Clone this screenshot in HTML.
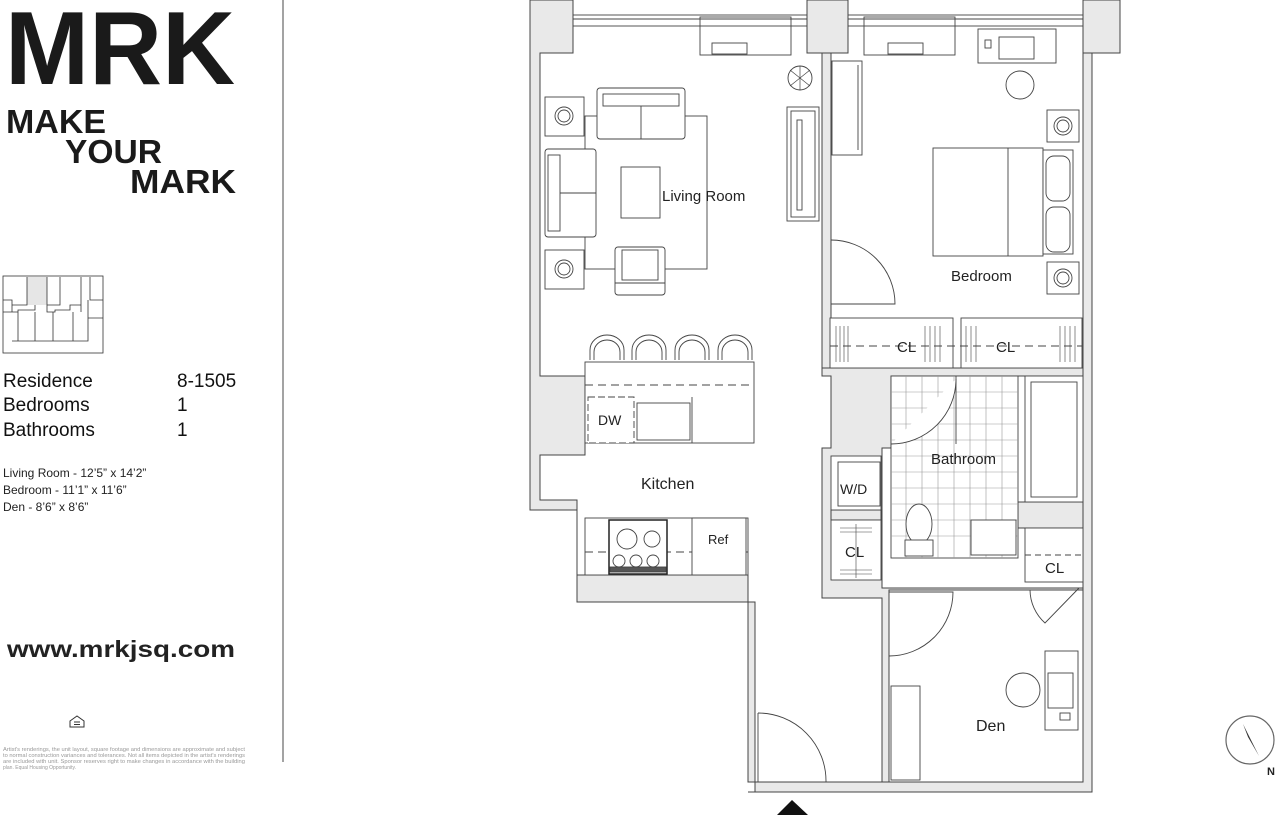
<!DOCTYPE html>
<html><head><meta charset="utf-8"><style>
html,body{margin:0;padding:0;background:#fff;width:1280px;height:819px;overflow:hidden}
svg{display:block}
text{font-family:"Liberation Sans",sans-serif}
</style></head><body>
<svg width="1280" height="819" viewBox="0 0 1280 819" xmlns="http://www.w3.org/2000/svg">
<!-- LEFT PANEL -->
<text x="5" y="84" font-size="104" font-weight="bold" textLength="230" lengthAdjust="spacingAndGlyphs" fill="#1a1a1a">MRK</text>
<text x="6" y="133" font-size="33" font-weight="bold" textLength="100" lengthAdjust="spacingAndGlyphs" fill="#1a1a1a">MAKE</text>
<text x="65" y="163" font-size="33" font-weight="bold" textLength="97" lengthAdjust="spacingAndGlyphs" fill="#1a1a1a">YOUR</text>
<text x="130" y="193" font-size="33" font-weight="bold" textLength="106" lengthAdjust="spacingAndGlyphs" fill="#1a1a1a">MARK</text>
<line x1="283" y1="0" x2="283" y2="762" stroke="#666" stroke-width="1.2"/>
<!-- minimap -->
<g fill="none" stroke="#333" stroke-width="0.8">
<rect x="3" y="276" width="100" height="77"/>
<rect x="27" y="277" width="20" height="28" fill="#e6e6e6" stroke="none"/>
<path d="M3 300 H12 V305 H27 V277 M47 277 V305 H60 V300 M60 277 V300 M81 277 V300 M90 277 V300 H103 M3 300 M12 305 V312 H18 V310 H35 V305 M47 305 V312 H55 V310 H70 V305 H81 V300 M81 305 V312 M88 300 V318 H103 M18 312 V341 M35 312 V341 M53 312 V341 M73 312 V341 M12 341 H88 V318 M3 312 H18"/>
</g>
<g font-size="19" fill="#111">
<text x="3" y="387">Residence</text><text x="177" y="387">8-1505</text>
<text x="3" y="411">Bedrooms</text><text x="177" y="411">1</text>
<text x="3" y="436">Bathrooms</text><text x="177" y="436">1</text>
</g>
<g font-size="12" fill="#222">
<text x="3" y="477">Living Room - 12’5” x 14’2”</text>
<text x="3" y="494">Bedroom - 11’1” x 11’6”</text>
<text x="3" y="511">Den - 8’6” x 8’6”</text>
</g>
<text x="7" y="657" font-size="23" font-weight="bold" fill="#222" textLength="228" lengthAdjust="spacingAndGlyphs">www.mrkjsq.com</text>
<g stroke="#333" fill="none" stroke-width="1"><path d="M70 721 L77 716 L84 721 V727 H70 Z"/><line x1="74" y1="722" x2="80" y2="722"/><line x1="74" y1="724.5" x2="80" y2="724.5"/></g>
<g font-size="5" fill="#999">
<text x="3" y="751" textLength="242" lengthAdjust="spacingAndGlyphs">Artist's renderings, the unit layout, square footage and dimensions are approximate and subject</text>
<text x="3" y="757" textLength="242" lengthAdjust="spacingAndGlyphs">to normal construction variances and tolerances. Not all items depicted in the artist's renderings</text>
<text x="3" y="763" textLength="242" lengthAdjust="spacingAndGlyphs">are included with unit. Sponsor reserves right to make changes in accordance with the building</text>
<text x="3" y="769">plan. Equal Housing Opportunity.</text>
</g>

<!-- PLAN WALLS -->
<g fill="#e9e9e9" stroke="#444" stroke-width="1">
<polygon points="530,0 573,0 573,15 573,26 573,53 540,53 540,376 585,376 585,455 540,455 540,500 577,500 577,575 748,575 748,782 1083,782 1083,53 1092,53 1092,792 748,792 755,792 755,602 577,602 577,510 530,510"/>
<rect x="807" y="0" width="41" height="53"/>
<rect x="1083" y="0" width="37" height="53"/>
<rect x="822" y="53" width="9" height="323"/>
<polygon points="822,368 1083,368 1083,376 891,376 891,448 882,448 882,588 1083,588 1083,590 889,590 889,782 882,782 882,598 822,598 822,448 831,448 831,376 822,376"/>
<rect x="1018" y="502" width="65" height="26"/>
<rect x="831" y="510" width="50" height="10"/>
<rect x="748" y="602" width="7" height="180"/>
</g>
<!-- windows -->
<g fill="none" stroke="#444" stroke-width="0.9">
<rect x="573" y="15" width="234" height="11"/><line x1="573" y1="19" x2="807" y2="19"/>
<rect x="848" y="15" width="235" height="11"/><line x1="848" y1="19" x2="1083" y2="19"/>
<rect x="700" y="17" width="91" height="38"/><rect x="712" y="43" width="35" height="11"/>
<rect x="864" y="17" width="91" height="38"/><rect x="888" y="43" width="35" height="11"/>
</g>
<!-- living room furniture -->
<g fill="#fff" stroke="#444" stroke-width="0.9">
<rect x="585" y="116" width="122" height="153"/>
<rect x="545" y="97" width="39" height="39"/><circle cx="564" cy="116" r="9"/><circle cx="564" cy="116" r="6"/>
<rect x="545" y="250" width="39" height="39"/><circle cx="564" cy="269" r="9"/><circle cx="564" cy="269" r="6"/>
<rect x="597" y="88" width="88" height="51" rx="3"/><line x1="641" y1="94" x2="641" y2="139"/><rect x="603" y="94" width="76" height="12"/>
<rect x="545" y="149" width="51" height="88" rx="3"/><line x1="548" y1="193" x2="596" y2="193"/><rect x="548" y="155" width="12" height="76"/>
<rect x="621" y="167" width="39" height="51"/>
<rect x="615" y="247" width="50" height="48" rx="3"/><line x1="615" y1="283" x2="665" y2="283"/><rect x="622" y="250" width="36" height="30"/>
<rect x="787" y="107" width="32" height="114"/><rect x="791" y="111" width="24" height="106"/><rect x="797" y="120" width="5" height="90"/>
<circle cx="800" cy="78" r="12"/><path d="M790 70 L810 86 M810 70 L790 86 M800 66 V90" stroke-width="0.7"/>
</g>
<text x="662" y="201" font-size="15" fill="#222">Living Room</text>
<!-- bar / kitchen -->
<g fill="#fff" stroke="#444" stroke-width="0.9">
<path d="M590 360 V350 A17 15 0 0 1 624 350 V360"/><path d="M594 360 V352 A13 12 0 0 1 620 352 V360"/>
<path d="M632 360 V350 A17 15 0 0 1 666 350 V360"/><path d="M636 360 V352 A13 12 0 0 1 662 352 V360"/>
<path d="M675 360 V350 A17 15 0 0 1 709 350 V360"/><path d="M679 360 V352 A13 12 0 0 1 705 352 V360"/>
<path d="M718 360 V350 A17 15 0 0 1 752 350 V360"/><path d="M722 360 V352 A13 12 0 0 1 748 352 V360"/>
<rect x="585" y="362" width="169" height="81"/>
<line x1="585" y1="385" x2="754" y2="385" stroke-dasharray="8,5"/>
<rect x="588" y="397" width="46" height="46" stroke-dasharray="7,3"/>
<rect x="637" y="403" width="53" height="37"/><line x1="692" y1="397" x2="692" y2="443"/>
<rect x="585" y="518" width="163" height="57"/>
<line x1="585" y1="552" x2="748" y2="552" stroke-dasharray="8,5"/>
<rect x="609" y="520" width="58" height="54" fill="#fff" stroke="#222" stroke-width="1.5"/>
<circle cx="627" cy="539" r="10"/><circle cx="652" cy="539" r="8"/>
<circle cx="619" cy="561" r="6"/><circle cx="636" cy="561" r="6"/><circle cx="653" cy="561" r="6"/>
<rect x="610" y="567" width="56" height="5" fill="#555"/>
<rect x="692" y="518" width="54" height="57"/>
</g>
<text x="598" y="425" font-size="14" fill="#222">DW</text>
<text x="641" y="489" font-size="16" fill="#222">Kitchen</text>
<text x="708" y="544" font-size="13" fill="#222">Ref</text>
<!-- bedroom -->
<g fill="#fff" stroke="#444" stroke-width="0.9">
<rect x="832" y="61" width="30" height="94"/><line x1="858" y1="65" x2="858" y2="150"/>
<rect x="978" y="29" width="78" height="34"/><rect x="999" y="37" width="35" height="22"/><rect x="985" y="40" width="6" height="8"/>
<circle cx="1020" cy="85" r="14"/>
<rect x="933" y="148" width="110" height="108"/><line x1="1008" y1="148" x2="1008" y2="256"/>
<rect x="1043" y="150" width="30" height="104"/><rect x="1046" y="156" width="24" height="45" rx="8"/><rect x="1046" y="207" width="24" height="45" rx="8"/>
<rect x="1047" y="110" width="32" height="32"/><circle cx="1063" cy="126" r="9"/><circle cx="1063" cy="126" r="6"/>
<rect x="1047" y="262" width="32" height="32"/><circle cx="1063" cy="278" r="9"/><circle cx="1063" cy="278" r="6"/>
<path d="M831 240 A64 64 0 0 1 895 304 H831" fill="none"/>
<rect x="830" y="318" width="123" height="50"/><rect x="961" y="318" width="121" height="50"/>
<line x1="830" y1="346" x2="1082" y2="346" stroke-dasharray="8,5"/>
<path d="M836 326 V362 M840 326 V362 M844 326 V362 M848 326 V362 M925 326 V362 M930 326 V362 M935 326 V362 M940 326 V362 M966 326 V362 M971 326 V362 M976 326 V362 M1060 326 V362 M1065 326 V362 M1070 326 V362 M1075 326 V362" stroke-width="0.6"/>
</g>
<text x="951" y="281" font-size="15" fill="#222">Bedroom</text>
<text x="897" y="352" font-size="15" fill="#222">CL</text>
<text x="996" y="352" font-size="15" fill="#222">CL</text>
<!-- bathroom -->
<g fill="#fff" stroke="#444" stroke-width="0.9">
<rect x="891" y="376" width="127" height="182"/>
<path d="M906 376 V558 M922 376 V558 M938 376 V558 M954 376 V558 M970 376 V558 M986 376 V558 M1002 376 V558 M891 392 H1018 M891 408 H1018 M891 424 H1018 M891 440 H1018 M891 456 H1018 M891 472 H1018 M891 488 H1018 M891 504 H1018 M891 520 H1018 M891 536 H1018" stroke="#999" stroke-width="0.6"/>
<path d="M891 444 A65 65 0 0 0 956 379" fill="#fff"/><line x1="956" y1="376" x2="956" y2="444"/>
<ellipse cx="919" cy="524" rx="13" ry="20"/><rect x="905" y="540" width="28" height="16"/>
<rect x="971" y="520" width="45" height="35"/>
<rect x="1025" y="376" width="58" height="126"/><rect x="1031" y="382" width="46" height="115"/>
<rect x="831" y="456" width="50" height="54"/><rect x="838" y="462" width="42" height="44"/>
<rect x="831" y="520" width="50" height="60"/>
<path d="M840 528 H872 M840 532 H872 M840 570 H872 M840 574 H872 M856 524 V578" stroke-width="0.6"/>
<rect x="1025" y="528" width="58" height="54"/>
<line x1="1025" y1="555" x2="1083" y2="555" stroke-dasharray="6,4"/>
<path d="M1030 590 A45 45 0 0 0 1045 623 L1079 588" fill="none"/>
</g>
<text x="931" y="464" font-size="15" fill="#222">Bathroom</text>
<text x="840" y="494" font-size="14" fill="#222">W/D</text>
<text x="845" y="557" font-size="15" fill="#222">CL</text>
<text x="1045" y="573" font-size="15" fill="#222">CL</text>
<!-- den -->
<g fill="#fff" stroke="#444" stroke-width="0.9">
<path d="M889 592 H953 A64 64 0 0 1 889 656" fill="none"/>
<rect x="891" y="686" width="29" height="94"/>
<rect x="1045" y="651" width="33" height="79"/><rect x="1048" y="673" width="25" height="35"/><rect x="1060" y="713" width="10" height="7"/>
<circle cx="1023" cy="690" r="17"/>
<path d="M758 713 A68 68 0 0 1 826 782" fill="none"/><line x1="758" y1="713" x2="758" y2="782"/>
</g>
<text x="976" y="731" font-size="16" fill="#222">Den</text>
<polygon points="777,815 792,800 808,815" fill="#111"/>
<!-- compass -->
<circle cx="1250" cy="740" r="24" fill="#fff" stroke="#666" stroke-width="1.2"/>
<polygon points="1243,724 1259,756 1248,737" fill="#333"/>
<text x="1267" y="775" font-size="11" font-weight="bold" fill="#222">N</text>
</svg>
</body></html>
